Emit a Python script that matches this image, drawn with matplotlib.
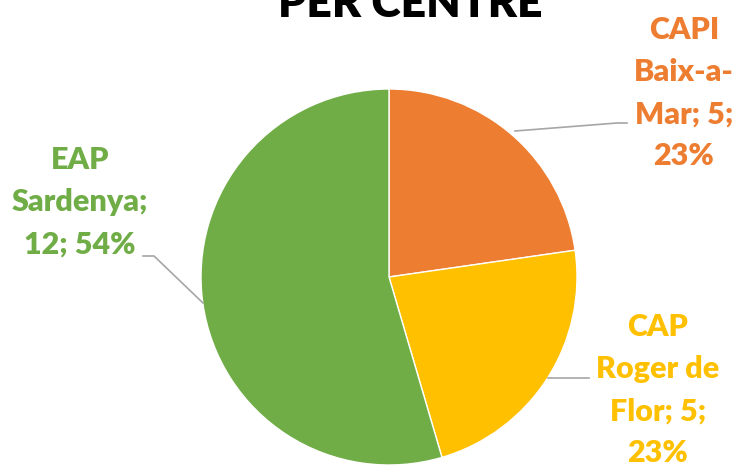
import matplotlib
matplotlib.use("Agg")
import matplotlib.pyplot as plt

plt.rcParams['font.family'] = ['Lato', 'DejaVu Sans']

# data
names = ["CAPI\nBaix-a-\nMar", "CAP\nRoger de\nFlor", "EAP\nSardenya"]
counts = [5, 5, 12]
pcts = [23, 23, 54]
colors = ["#ED7D31", "#FFC000", "#70AD47"]
title = "PER CENTRE"

W, H = 739, 465
fig = plt.figure(figsize=(W / 100, H / 100), dpi=100)
ax = fig.add_axes([0, 0, 1, 1])

cx, cy, r = 389, 188, 188
ax.pie(counts, colors=colors, startangle=90, counterclock=False,
       center=(cx, cy), radius=r, wedgeprops=dict(edgecolor="white", linewidth=1))
ax.set_xlim(0, W)
ax.set_ylim(0, H)
ax.set_aspect("equal")
ax.axis("off")

# label text
labels = [
    "{}; {};\n{}%".format(names[0], counts[0], pcts[0]),
    "{}; {};\n{}%".format(names[1], counts[1], pcts[1]),
    "{};\n{}; {}%".format(names[2], counts[2], pcts[2]),
]
label_pos = [(684, H - 93), (658, H - 390), (80, H - 202)]
for txt, (x, y), col in zip(labels, label_pos, colors):
    ax.text(x, y, txt, ha="center", va="center", color=col, fontsize=22,
            fontweight="heavy", linespacing=1.62)

# leader lines
gray = "#A6A6A6"
ax.plot([515, 617, 627], [H - 131, H - 123, H - 123], color=gray, lw=1.2)
ax.plot([548, 589], [H - 378, H - 378], color=gray, lw=1.2)
ax.plot([143, 154, 203], [H - 256, H - 256, H - 303], color=gray, lw=1.2)

ax.text(410, H - 17, title, ha="center", va="baseline", fontsize=32,
        fontweight="heavy", color="black")

fig.savefig("out.png", dpi=100)
